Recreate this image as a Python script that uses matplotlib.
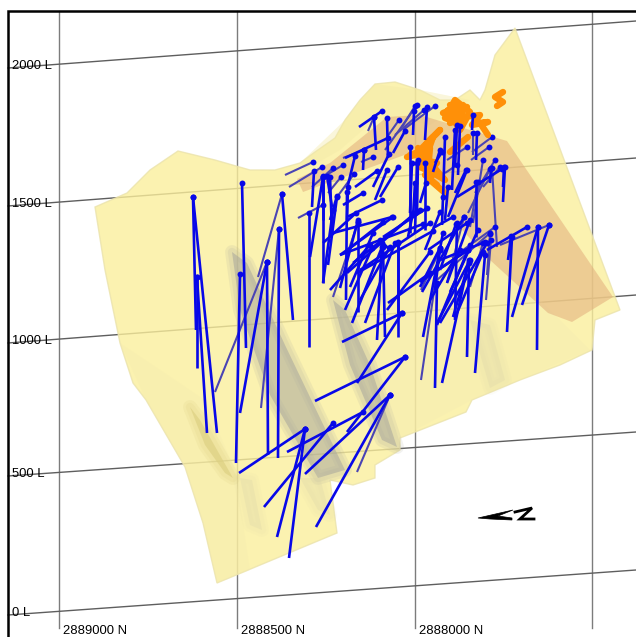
"""3D view of a geological model with drill holes, drawn in screen coordinates."""

import matplotlib

matplotlib.use("Agg")
import matplotlib.pyplot as plt
from matplotlib.collections import LineCollection
from matplotlib.patches import Polygon

WIDTH, HEIGHT = 636, 637

northings = [2889000, 2888500, 2888000, 2887500]
northing_labels = ["2889000 N", "2888500 N", "2888000 N", ""]
northing_px = [59, 237, 415, 592]

levels = [2000, 1500, 1000, 500, 0]
level_labels = ["2000 L", "1500 L", "1000 L", "500 L", "0 L"]
level_left_px = [68, 206, 343, 476, 615]
level_right_px = [21, 158, 295, 432, 570]

sheet_outline = [
    (95, 207), (127, 193), (150, 170), (178, 151), (215, 160), (250, 170), (275, 170),
    (300, 163), (315, 152), (335, 138), (345, 120), (360, 100), (375, 84), (395, 82),
    (420, 90), (440, 100), (455, 100), (470, 90), (480, 100), (485, 90), (495, 55),
    (515, 28), (620, 310), (595, 320), (592, 350), (560, 365), (520, 380), (472, 400),
    (466, 412), (400, 438), (400, 450), (375, 465), (375, 478), (353, 485), (330, 480),
    (337, 533), (217, 583), (203, 523), (185, 467), (146, 400), (133, 383), (120, 343),
    (105, 270),
]
ridge_shade = [
    (300, 163), (345, 120), (375, 84), (420, 90), (470, 100), (430, 125), (380, 115),
    (340, 150), (305, 170),
]
lower_shade = [(120, 343), (205, 400), (235, 470), (250, 570), (217, 583), (203, 523), (185, 467), (146, 400)]
mid_shade = [(330, 310), (480, 240), (590, 350), (472, 400), (400, 438), (375, 400)]

grey_bands = [
    [(232, 252), (247, 263), (285, 345), (345, 470), (318, 478), (270, 395), (240, 310)],
    [(333, 300), (345, 310), (370, 365), (397, 447), (382, 440), (350, 365)],
]
faint_bands = [
    [(300, 478), (320, 478), (330, 515), (318, 510)],
    [(240, 478), (252, 480), (262, 530), (250, 525)],
    [(470, 320), (490, 325), (505, 380), (490, 388)],
]
olive_band = [(190, 407), (200, 420), (233, 478), (225, 473), (205, 445)]
plane_outline = [
    (297, 179), (330, 163), (387, 117), (420, 115), (507, 141), (613, 297), (572, 322),
    (548, 313), (490, 260), (453, 220), (443, 193), (410, 153), (303, 192),
]

# collar x, collar y, toe x, toe y
front_holes = [
    (193, 197, 217, 433), (193, 197, 196, 330), (197, 277, 207, 433), (197, 277, 197, 368),
    (242, 183, 246, 348), (240, 274, 236, 463), (282, 194, 293, 320), (267, 262, 240, 413),
    (267, 262, 268, 455), (279, 229, 278, 458), (309, 213, 309, 347), (323, 177, 310, 257),
    (323, 177, 323, 283), (305, 429, 239, 473), (333, 423, 264, 507), (305, 429, 277, 537),
    (305, 429, 289, 558), (363, 412, 287, 452), (390, 395, 305, 474), (390, 395, 316, 527),
    (405, 357, 315, 401), (405, 357, 347, 432), (402, 313, 342, 342), (402, 313, 357, 383),
    (382, 111, 359, 127), (374, 117, 376, 150), (387, 118, 388, 158), (388, 138, 345, 158),
    (405, 131, 393, 153), (364, 150, 363, 170), (355, 156, 348, 185), (389, 154, 373, 187),
    (314, 171, 312, 207), (323, 176, 323, 220), (327, 176, 332, 207), (330, 177, 332, 232),
    (348, 187, 347, 220), (363, 193, 343, 205), (377, 171, 355, 187), (387, 170, 375, 200),
    (398, 167, 380, 197), (337, 196, 330, 220), (382, 200, 347, 217), (337, 197, 328, 265),
    (347, 192, 346, 300), (358, 222, 358, 312), (356, 213, 323, 243), (392, 217, 333, 233),
    (383, 222, 350, 248), (382, 247, 352, 323), (383, 247, 385, 337), (390, 247, 360, 300),
    (398, 242, 398, 337), (413, 213, 408, 237), (420, 210, 353, 263), (427, 208, 383, 237),
    (423, 224, 340, 255), (433, 231, 357, 273), (443, 233, 423, 337), (453, 217, 433, 228),
    (464, 217, 422, 292), (470, 220, 447, 283), (549, 225, 522, 305), (538, 227, 512, 317),
    (538, 227, 537, 350), (527, 227, 487, 250), (512, 237, 507, 332), (511, 236, 508, 260),
    (485, 255, 475, 373), (469, 263, 467, 357), (469, 260, 442, 383), (437, 283, 435, 388),
    (440, 248, 420, 287), (468, 250, 420, 282), (485, 242, 440, 260), (467, 223, 428, 250),
    (456, 224, 440, 270), (478, 230, 450, 292), (470, 245, 437, 325), (460, 250, 430, 300),
    (505, 167, 503, 202), (502, 169, 457, 197), (467, 170, 448, 217), (476, 182, 476, 237),
    (410, 147, 410, 233), (425, 163, 425, 230), (417, 163, 415, 233), (477, 133, 476, 160),
    (427, 107, 425, 140), (414, 111, 413, 135), (445, 137, 443, 200), (455, 130, 452, 190),
    (460, 126, 458, 175), (473, 115, 472, 130), (380, 240, 390, 250), (370, 245, 330, 290),
    (395, 243, 365, 323), (372, 248, 345, 310), (443, 197, 442, 225), (440, 212, 425, 250),
    (393, 217, 340, 255), (415, 213, 347, 273), (430, 223, 360, 270), (382, 243, 377, 340),
    (398, 243, 398, 313), (430, 252, 387, 310), (430, 273, 388, 303), (358, 220, 340, 288),
    (373, 233, 350, 287), (333, 210, 323, 283), (487, 243, 440, 323), (470, 260, 437, 323),
    (469, 262, 453, 317), (483, 252, 457, 313), (468, 250, 430, 275), (457, 223, 455, 320),
    (440, 248, 435, 290), (457, 125, 455, 167), (466, 170, 455, 193), (491, 168, 490, 183),
    (504, 167, 503, 187), (448, 187, 445, 220), (426, 183, 420, 203), (415, 183, 413, 217),
    (418, 160, 417, 213), (412, 163, 410, 213), (440, 150, 433, 172), (442, 152, 435, 163),
]
back_holes = [
    (267, 262, 215, 392), (282, 194, 258, 277), (279, 229, 261, 408), (390, 395, 357, 472),
    (313, 162, 285, 175), (322, 167, 289, 187), (333, 168, 312, 187), (343, 165, 323, 177),
    (341, 177, 328, 193), (354, 174, 337, 197), (373, 157, 361, 162), (399, 120, 387, 137),
    (364, 150, 343, 158), (374, 117, 368, 131), (323, 205, 298, 218), (358, 222, 333, 297),
    (435, 106, 403, 130), (424, 110, 395, 135), (417, 105, 385, 150), (489, 147, 471, 160),
    (467, 147, 447, 160), (492, 137, 472, 152), (457, 165, 445, 173), (549, 225, 500, 245),
    (492, 168, 497, 247), (490, 169, 468, 213), (483, 160, 473, 223), (495, 227, 452, 258),
    (490, 233, 437, 280), (490, 234, 487, 275), (483, 243, 470, 287), (464, 217, 447, 283),
    (440, 250, 421, 380), (491, 240, 486, 300), (440, 250, 421, 290), (415, 106, 402, 127),
    (500, 167, 483, 187), (473, 133, 473, 155), (495, 160, 475, 193), (478, 182, 470, 227),
]

orange_paths = [
    [(450, 105), (467, 107), (457, 117), (472, 116), (480, 115), (472, 125), (488, 122), (480, 123), (488, 135)],
    [(443, 113), (463, 105), (450, 123), (465, 118), (448, 110), (460, 130), (470, 112), (455, 100), (445, 118), (462, 124)],
    [(503, 92), (495, 97), (503, 102), (497, 106)],
    [(407, 157), (423, 153), (420, 167), (433, 173), (430, 180), (445, 193)],
    [(420, 150), (440, 130), (427, 143), (433, 137), (425, 160), (437, 163), (425, 175), (437, 185)],
    [(450, 152), (468, 137)],
    [(410, 155), (430, 148), (428, 170), (445, 180), (432, 165), (418, 148)],
]

arrow_head = [(478, 518), (513, 510), (498, 516), (512, 518), (512, 520), (490, 519)]
north_letter = [(515, 512), (532, 508), (520, 519), (534, 519)]


def level_y(index, x):
    left, right = level_left_px[index], level_right_px[index]
    return left + (right - left) * (x - 8) / (WIDTH - 8)


def add_poly(ax, points, **kwargs):
    ax.add_patch(Polygon(points, closed=True, **kwargs))


def add_soft_band(ax, points, colour, alpha, z):
    # fake blur: wide faint edges under a solid core
    for width in (10, 6):
        add_poly(ax, points, facecolor="none", edgecolor=colour, linewidth=width, alpha=alpha * 0.2, zorder=z, joinstyle="round")
    add_poly(ax, points, facecolor=colour, edgecolor="none", alpha=alpha * 0.75, zorder=z)


def main():
    fig = plt.figure(figsize=(WIDTH / 100, HEIGHT / 100), dpi=100)
    ax = fig.add_axes([0, 0, 1, 1])
    ax.set_xlim(0, WIDTH)
    ax.set_ylim(HEIGHT, 0)
    ax.axis("off")

    for x in northing_px:
        ax.plot([x, x], [11, 628], color="#7c7c7c", linewidth=1, zorder=0.5)
    for i in range(len(levels)):
        ax.plot([8, WIDTH], [level_y(i, 8), level_y(i, WIDTH)], color="#5e5e5e", linewidth=1, zorder=0.5)

    add_poly(ax, sheet_outline, facecolor="#fbef9c", edgecolor="#ebe3ac", linewidth=1.0, alpha=0.8, zorder=1)
    add_poly(ax, ridge_shade, facecolor="#f3e9a6", edgecolor="none", alpha=0.4, zorder=1.1)
    add_poly(ax, lower_shade, facecolor="#f4eaae", edgecolor="none", alpha=0.3, zorder=1.1)
    add_poly(ax, mid_shade, facecolor="#f5ebb0", edgecolor="none", alpha=0.35, zorder=1.1)
    for band in grey_bands:
        add_soft_band(ax, band, "#a9a89c", 0.75, 1.2)
    for band in faint_bands:
        add_soft_band(ax, band, "#d8d2a8", 0.35, 1.2)
    add_soft_band(ax, olive_band, "#dccf80", 0.85, 1.2)

    add_poly(ax, plane_outline, facecolor="#e0a878", edgecolor="none", alpha=0.5, zorder=2.5)

    for holes, colour, width, z in ((back_holes, "#4a44b4", 1.5, 3), (front_holes, "#0808e8", 1.9, 3.2)):
        segs = [[(h[0], h[1]), (h[2], h[3])] for h in holes]
        ax.add_collection(LineCollection(segs, colors=colour, linewidths=width, zorder=z))
        ax.scatter([h[0] for h in holes], [h[1] for h in holes], s=18, c="#0808e8", linewidths=0, zorder=z + 0.1)

    for path in orange_paths:
        ax.plot(*zip(*path), color="#ff9008", linewidth=4.6, solid_joinstyle="round", solid_capstyle="round", zorder=3.1)

    add_poly(ax, arrow_head, facecolor="black", edgecolor="black", linewidth=0.5, zorder=5)
    ax.plot(*zip(*north_letter), color="black", linewidth=2, solid_joinstyle="miter", zorder=5)

    ax.plot([8, 8, WIDTH], [HEIGHT, 11, 11], color="black", linewidth=1.8, solid_joinstyle="miter", zorder=6)

    font = ["Liberation Sans", "DejaVu Sans"]
    for x, label in zip(northing_px, northing_labels):
        ax.text(x + 4, 636.5, label, family=font, fontsize=9.4, va="bottom", ha="left", color="black", zorder=6)
    for i, label in enumerate(level_labels):
        ax.text(12, level_left_px[i] + 1, label, family=font, fontsize=9.4, va="baseline", ha="left", color="black", zorder=6)

    fig.savefig("out.png", dpi=100)
    plt.close(fig)


if __name__ == "__main__":
    main()
